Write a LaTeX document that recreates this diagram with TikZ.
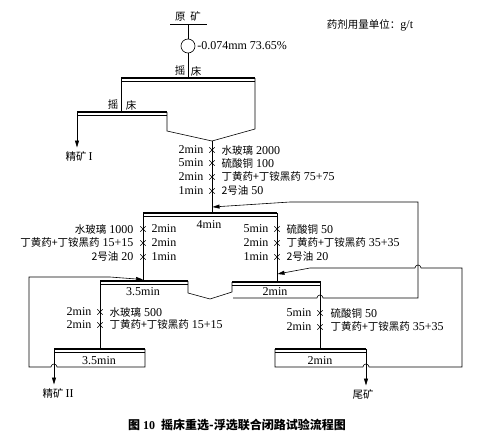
\documentclass[tikz,border=0pt]{standalone}
\usepackage{fontspec}
\setmainfont{Liberation Serif}
\newfontfamily\cjk{Noto Sans CJK SC}
\newcommand{\zh}[1]{{\cjk\fontsize{10.5}{12}\selectfont #1}}
\newcommand{\zhb}[1]{{\cjk\fontsize{12}{13}\selectfont\bfseries #1}}
\usetikzlibrary{arrows.meta,shapes.misc}

\begin{document}
\begin{tikzpicture}[x=1pt,y=-1pt,line width=0.6pt,
  font=\fontsize{12}{13}\selectfont,
  >={Triangle[length=7pt,width=4pt]},
  bed/.style={line width=2.6pt},
  dose/.style={cross out,draw,minimum size=5pt,inner sep=0pt,line width=0.4pt}]
  \useasboundingbox (0,0) rectangle (485,437);
  % Feed and grinding.
  \node (Feed) at (188,16) {\zh{原\hspace{5pt}矿}};
  \coordinate (FL) at (170,24);
  \coordinate (FR) at (207,24);
  \coordinate (FM) at (188,24);
  \draw (FL) -- (FR);
  \node[circle,draw,minimum size=14pt,inner sep=0pt] (Mill) at (188,46) {};
  \node[right,inner sep=1pt] (Size) at (196,46) {-0.074mm 73.65\%};
  \node (Unit) at (370,25) {\zh{药剂用量单位：}g/t};
  % Shaking tables.
  \coordinate (T1L) at (121,78);
  \coordinate (T1R) at (255,78);
  \coordinate (T2L) at (77,112);
  \coordinate (T2R) at (167,112);
  \coordinate (T2M) at (121,112);
  \draw[bed] (T1L) -- (T1R);
  \draw (121,81.5) -- (255,81.5);
  \draw[bed] (T2L) -- (T2R);
  \draw (77,115.5) -- (167,115.5);
  \node (T1a) at (180,71) {\zh{摇}};
  \node (T1b) at (196,71) {\zh{床}};
  \node (T2a) at (113,105) {\zh{摇}};
  \node (T2b) at (131,105) {\zh{床}};
  \draw (FM) -- (Mill.north);
  \draw (Mill.south) -- (Mill |- T1L);
  \draw (T1L) -- (T2M);
  \node (Con1) at (79,156) {\zh{精矿}\,I};
  \draw[->] (T2L) -- (Con1.north -| T2L);
  % Table products join the flotation feed.
  \coordinate (F1) at (212,141);
  \draw (T2R) -- (167,131) -- (F1) -- (255,129) -- (T1R);
  % Rougher, 4min.
  \coordinate (T3L) at (143,213);
  \coordinate (T3R) at (277,213);
  \coordinate (T3M) at (212,213);
  \draw[bed] (T3L) -- (T3R);
  \draw (143,216.5) -- (277,216.5);
  \node (T3t) at (209,225) {4min};
  \draw (F1) -- (T3M);
  \foreach \y/\t/\r [count=\i] in {150/2min/{\zh{水玻璃} 2000},
      163/5min/{\zh{硫酸铜} 100},
      177/2min/{\zh{丁黄药+丁铵黑药} 75+75},
      191/1min/{\zh{2号油} 50}} {
    \node[dose] (R\i) at (212,\y) {};
    \node[left] (Rt\i) at (207,\y) {\t};
    \node[right] (Rr\i) at (218,\y) {\r};
  }
  % Cleaner 1, 3.5min, and scavenger 1, 2min.
  \coordinate (T4L) at (100,281);
  \coordinate (T4R) at (188,281);
  \coordinate (T5L) at (232,282);
  \coordinate (T5R) at (320,282);
  \draw[bed] (T4L) -- (T4R);
  \draw (100,284.5) -- (188,284.5);
  \draw[bed] (T5L) -- (321,282);
  \draw (232,285.5) -- (321,285.5);
  \node (T4t) at (143,292) {3.5min};
  \node (T5t) at (275,292) {2min};
  \draw (T3L) -- (143,281);
  \draw (T3R) -- (277,282);
  \foreach \y/\l/\t [count=\i] in {229/{\zh{水玻璃} 1000}/2min,
      243/{\zh{丁黄药+丁铵黑药} 15+15}/2min,
      257/{\zh{2号油} 20}/1min} {
    \node[dose] (C\i) at (143,\y) {};
    \node[left] (Cl\i) at (137,\y) {\l};
    \node[right] (Ct\i) at (148,\y) {\t};
  }
  \foreach \y/\t/\r [count=\i] in {229/5min/{\zh{硫酸铜} 50},
      243/2min/{\zh{丁黄药+丁铵黑药} 35+35},
      257/1min/{\zh{2号油} 20}} {
    \node[dose] (S\i) at (277,\y) {};
    \node[left] (St\i) at (272,\y) {\t};
    \node[right] (Sr\i) at (283,\y) {\r};
  }
  \coordinate (F2) at (210,299);
  \draw (T4R) -- (188,293) -- (F2) -- (232,292) -- (T5L);
  % Scavenger 1 concentrate back to the rougher.
  \coordinate (T3in) at (212.5,207);
  \draw[->] (233,298) -- (317,298) arc[start angle=180,end angle=360,radius=3]
    -- (418,298) -- (418,202) -- (290,202) -- (T3in);
  % Cleaner 2 and scavenger 2.
  \coordinate (T6L) at (54,349);
  \coordinate (T6R) at (145,349);
  \coordinate (T7L) at (275,349);
  \coordinate (T7R) at (366,349);
  \draw[bed] (T6L) -- (T6R);
  \draw (54,352.5) -- (145,352.5);
  \draw[bed] (T7L) -- (T7R);
  \draw (275,352.5) -- (366,352.5);
  \node (T6t) at (99,361) {3.5min};
  \node (T7t) at (320,361) {2min};
  \draw (T4L) -- (100,349);
  \draw (T5R) -- (320,349);
  \foreach \y/\r [count=\i] in {312/{\zh{水玻璃} 500},
      325/{\zh{丁黄药+丁铵黑药} 15+15}} {
    \node[dose] (K\i) at (100,\y) {};
    \node[left] (Kt\i) at (95,\y) {2min};
    \node[right] (Kr\i) at (106,\y) {\r};
  }
  \foreach \y/\t/\r [count=\i] in {313/5min/{\zh{硫酸铜} 50},
      327/2min/{\zh{丁黄药+丁铵黑药} 35+35}} {
    \node[dose] (V\i) at (320,\y) {};
    \node[left] (Vt\i) at (315,\y) {\t};
    \node[right] (Vr\i) at (327,\y) {\r};
  }
  % Products.
  \node (Con2) at (58,393) {\zh{精矿}\,II};
  \node (Tail) at (363,394) {\zh{尾矿}};
  \draw[->] (T6L) -- (Con2.north -| T6L);
  \draw[->] (T7R) -- (Tail.north -| T7R);
  % Cleaner 2 tailings back to cleaner 1.
  \coordinate (T4in) at (143,279.5);
  \draw[->] (T6R) -- (145,367) -- (57,367) arc[start angle=0,end angle=-180,radius=3]
    -- (29,367) -- (29,277) -- (110,277) -- (T4in);
  % Scavenger 2 concentrate back to scavenger 1.
  \coordinate (T5in) at (277.5,274);
  \draw[->] (T7L) -- (275,367) -- (363,367) arc[start angle=180,end angle=360,radius=3]
    -- (462,367) -- (462,268) -- (421,268) arc[start angle=0,end angle=-180,radius=3]
    -- (310,268) -- (T5in);
  % Caption.
  \node[font=\fontsize{12}{13}\selectfont\bfseries] (Cap) at (237,425)
    {\zhb{图} 10\enspace\zhb{摇床重选-浮选联合闭路试验流程图}};
\end{tikzpicture}
\end{document}
